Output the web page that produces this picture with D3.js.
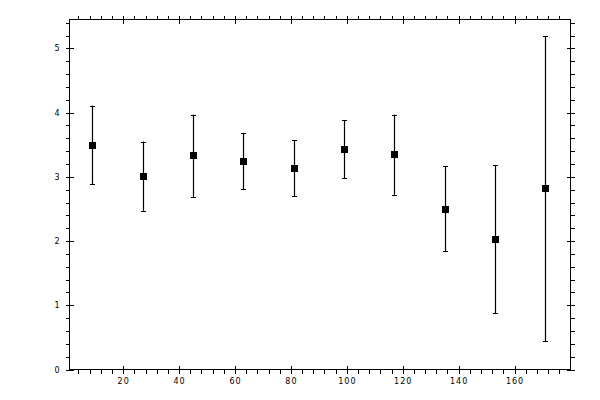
<!DOCTYPE html>
<html>
<head>
  <meta charset="UTF-8">
  <title>Error bars</title>
  <script src="https://d3js.org/d3.v7.min.js"></script>
  <style>
    body { margin: 0; background: #fff; }
    text { font-family: "DejaVu Sans", sans-serif; }
  </style>
</head>
<body>
    <svg></svg>

    <script>
        // values
        let xs = [9, 27, 45, 63, 81, 99, 117, 135, 153, 171];
        let means = [3.49, 3.01, 3.34, 3.25, 3.14, 3.43, 3.36, 2.50, 2.03, 2.83];
        let upper = [4.11, 3.55, 3.97, 3.68, 3.57, 3.88, 3.97, 3.17, 3.18, 5.19];
        let lower = [2.89, 2.47, 2.69, 2.81, 2.70, 2.98, 2.72, 1.84, 0.88, 0.44];
        let xMajor = [20, 40, 60, 80, 100, 120, 140, 160];
        let yMajor = [0, 1, 2, 3, 4, 5];

        let width = 600, height = 400;
        let svg = d3.select("svg")
            .attr("width", width)
            .attr("height", height);

        let mLeft = 69.5, mRight = 570.5, mTop = 19.5, mBottom = 369.5;

        let x = d3.scaleLinear().domain([0.8, 180]).range([mLeft, mRight]);
        let y = d3.scaleLinear().domain([0, 5.45]).range([mBottom, mTop]);

        let xMinor = d3.range(4, 180, 4).filter(v => v % 20 != 0);
        let yMinor = d3.range(1, 28).map(i => +(i * 0.2).toFixed(1)).filter(v => v % 1 != 0);

        let data = xs.map((v, i) => ({x: v, m: means[i], hi: upper[i], lo: lower[i]}));

        // frame
        svg.append("rect")
            .attr("x", mLeft).attr("y", mTop)
            .attr("width", mRight - mLeft).attr("height", mBottom - mTop)
            .attr("fill", "none").attr("stroke", "black")
            .attr("shape-rendering", "crispEdges");

        function axis(make, tx, ty, minorVals, majorVals, labels) {
            // minor ticks, outward only
            let gm = svg.append("g").attr("transform", "translate(" + tx + "," + ty + ")")
                .call(make().tickValues(minorVals).tickSize(4).tickFormat(""));
            // major ticks cross the frame
            let g = svg.append("g").attr("transform", "translate(" + tx + "," + ty + ")")
                .call(make().tickValues(majorVals).tickSize(4).tickPadding(5)
                    .tickFormat(labels ? d3.format("d") : ""));
            g.selectAll(".tick line").each(function() {
                let l = d3.select(this);
                ["x2", "y2"].forEach(a => {
                    let v = +l.attr(a);
                    if (v) l.attr(a.replace("2", "1"), -v);
                });
            });
            [g, gm].forEach(s => {
                s.select(".domain").remove();
                s.selectAll("line").attr("stroke", "black").attr("shape-rendering", "crispEdges");
            });
            g.selectAll("text").attr("font-size", 8).attr("fill", "black")
                .attr("letter-spacing", 1);
        }

        axis(() => d3.axisBottom(x), 0, mBottom, xMinor, xMajor, true);
        axis(() => d3.axisTop(x), 0, mTop, xMinor, xMajor, false);
        axis(() => d3.axisLeft(y), mLeft, 0, yMinor, yMajor, true);
        axis(() => d3.axisRight(y), mRight, 0, yMinor, yMajor, false);

        // error bars
        let bars = svg.append("g").attr("id", "bars");
        bars.selectAll(".stem").data(data).enter().append("line")
            .attr("x1", d => Math.round(x(d.x)) + 0.5).attr("x2", d => Math.round(x(d.x)) + 0.5)
            .attr("y1", d => y(d.hi)).attr("y2", d => y(d.lo))
            .attr("stroke", "black").attr("stroke-width", 1.2);
        bars.selectAll(".capHi").data(data).enter().append("line")
            .attr("x1", d => Math.round(x(d.x)) - 2).attr("x2", d => Math.round(x(d.x)) + 3)
            .attr("y1", d => Math.round(y(d.hi)) + 0.5).attr("y2", d => Math.round(y(d.hi)) + 0.5)
            .attr("stroke", "black").attr("shape-rendering", "crispEdges");
        bars.selectAll(".capLo").data(data).enter().append("line")
            .attr("x1", d => Math.round(x(d.x)) - 2).attr("x2", d => Math.round(x(d.x)) + 3)
            .attr("y1", d => Math.round(y(d.lo)) + 0.5).attr("y2", d => Math.round(y(d.lo)) + 0.5)
            .attr("stroke", "black").attr("shape-rendering", "crispEdges");

        // square markers
        svg.append("g").attr("id", "points")
            .selectAll("rect").data(data).enter().append("rect")
            .attr("x", d => Math.round(x(d.x)) - 3).attr("y", d => Math.round(y(d.m)) - 3)
            .attr("width", 7).attr("height", 7)
            .attr("fill", "black");
    </script>
</body>
</html>
